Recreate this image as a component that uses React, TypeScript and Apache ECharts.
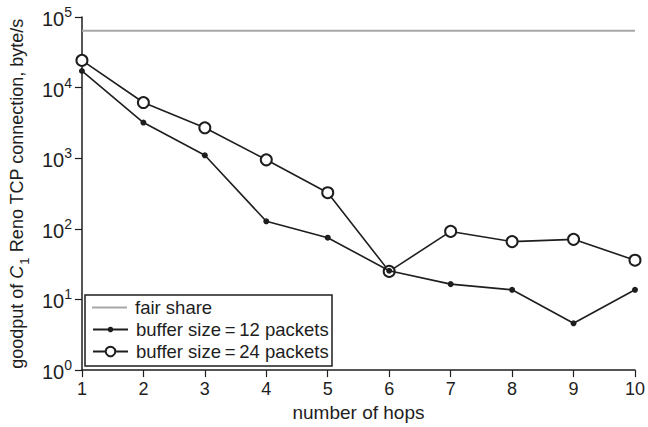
import React, { useEffect, useRef } from "react";
import * as echarts from "echarts";

const hops = [1, 2, 3, 4, 5, 6, 7, 8, 9, 10];
const buffer12 = [17200, 3200, 1100, 128, 75, 25.5, 16.5, 13.7, 4.6, 13.7];
const buffer24 = [24300, 6150, 2700, 950, 325, 25, 92, 66, 71, 36];
const fairShare = 64000;
const seriesNames = ["fair share", "buffer size\u2009=\u200912 packets", "buffer size\u2009=\u200924 packets"];
const xTitle = "number of hops";

const FONT = "'Liberation Sans', Arial, Helvetica, sans-serif";
const INK = "#1e1e1e";

export default function App() {
  const ref = useRef<HTMLDivElement>(null);
  useEffect(() => {
    if (!ref.current) return;
    const chart = echarts.init(ref.current, undefined, { renderer: "svg" });
    const legendBase = {
      orient: "vertical",
      left: 92,
      padding: 0,
      itemWidth: 35,
      textStyle: { fontFamily: FONT, fontSize: 18.5, color: INK, lineHeight: 18, padding: [0, 0, 0, 3] },
      selectedMode: false,
    };
    chart.setOption({
      animation: false,
      textStyle: { fontFamily: FONT, color: INK },
      grid: { left: 77, right: 10, top: 17, bottom: 52, containLabel: false },
      legend: [
        { ...legendBase, top: 298, itemHeight: 2, data: [{ name: seriesNames[0], icon: "rect" }] },
        { ...legendBase, top: 320, itemHeight: 7, data: [seriesNames[1]] },
        { ...legendBase, top: 342, itemHeight: 12, data: [seriesNames[2]] },
      ],
      xAxis: {
        type: "value",
        min: 1,
        max: 10,
        interval: 1,
        splitLine: { show: false },
        axisLine: { lineStyle: { color: INK, width: 1.5 } },
        axisTick: { length: 7, lineStyle: { color: INK, width: 1.2 } },
        axisLabel: { fontFamily: FONT, fontSize: 18, color: INK, margin: 10 },
        name: xTitle,
        nameLocation: "middle",
        nameGap: 27,
        nameTextStyle: { fontFamily: FONT, fontSize: 19, color: INK },
      },
      yAxis: {
        type: "log",
        logBase: 10,
        min: 1,
        max: 100000,
        splitLine: { show: false },
        minorTick: { show: false },
        axisLine: { show: true, lineStyle: { color: INK, width: 1.5 } },
        axisTick: { show: true, length: 7, lineStyle: { color: INK, width: 1.2 } },
        axisLabel: {
          margin: 10,
          formatter: (v: number) => `{b|10}{s|${Math.round(Math.log10(v))}}`,
          rich: {
            b: { fontFamily: FONT, fontSize: 20, color: INK, lineHeight: 24, verticalAlign: "bottom" },
            s: { fontFamily: FONT, fontSize: 14, color: INK, lineHeight: 14, verticalAlign: "top" },
          },
        },
        name: "{n|goodput of }{i|C}{sub|1}{n| Reno TCP connection, byte/s}",
        nameLocation: "middle",
        nameGap: 50,
        nameRotate: 90,
        nameTextStyle: {
          rich: {
            n: { fontFamily: FONT, fontSize: 18, color: INK, lineHeight: 22, verticalAlign: "middle" },
            i: { fontFamily: FONT, fontSize: 18, color: INK, fontStyle: "italic", lineHeight: 22, verticalAlign: "middle" },
            sub: { fontFamily: FONT, fontSize: 13, color: INK, lineHeight: 13, verticalAlign: "bottom", padding: [0, 0, -3, 1] },
          },
        },
      },
      graphic: [
        {
          type: "rect",
          shape: { x: 85, y: 295, width: 247, height: 71 },
          style: { fill: "none", stroke: INK, lineWidth: 1.5 },
          z: 1,
        },
      ],
      series: [
        {
          name: seriesNames[0],
          type: "line",
          data: [[1, fairShare], [10, fairShare]],
          symbol: "none",
          lineStyle: { color: "#a8a8a8", width: 2 },
          itemStyle: { color: "#a8a8a8" },
          z: 2,
        },
        {
          name: seriesNames[2],
          type: "line",
          data: hops.map((h, i) => [h, buffer24[i]]),
          symbol: "emptyCircle",
          symbolSize: 11,
          lineStyle: { color: INK, width: 1.6 },
          itemStyle: { color: INK, borderWidth: 1.2 },
          z: 3,
        },
        {
          name: seriesNames[1],
          type: "line",
          data: hops.map((h, i) => [h, buffer12[i]]),
          symbol: "circle",
          symbolSize: 6,
          lineStyle: { color: INK, width: 1.6 },
          itemStyle: { color: INK },
          z: 4,
        },
      ],
    });
    return () => chart.dispose();
  }, []);
  return <div ref={ref} style={{ width: 648, height: 427, position: "absolute", left: 0, top: 0 }} />;
}
